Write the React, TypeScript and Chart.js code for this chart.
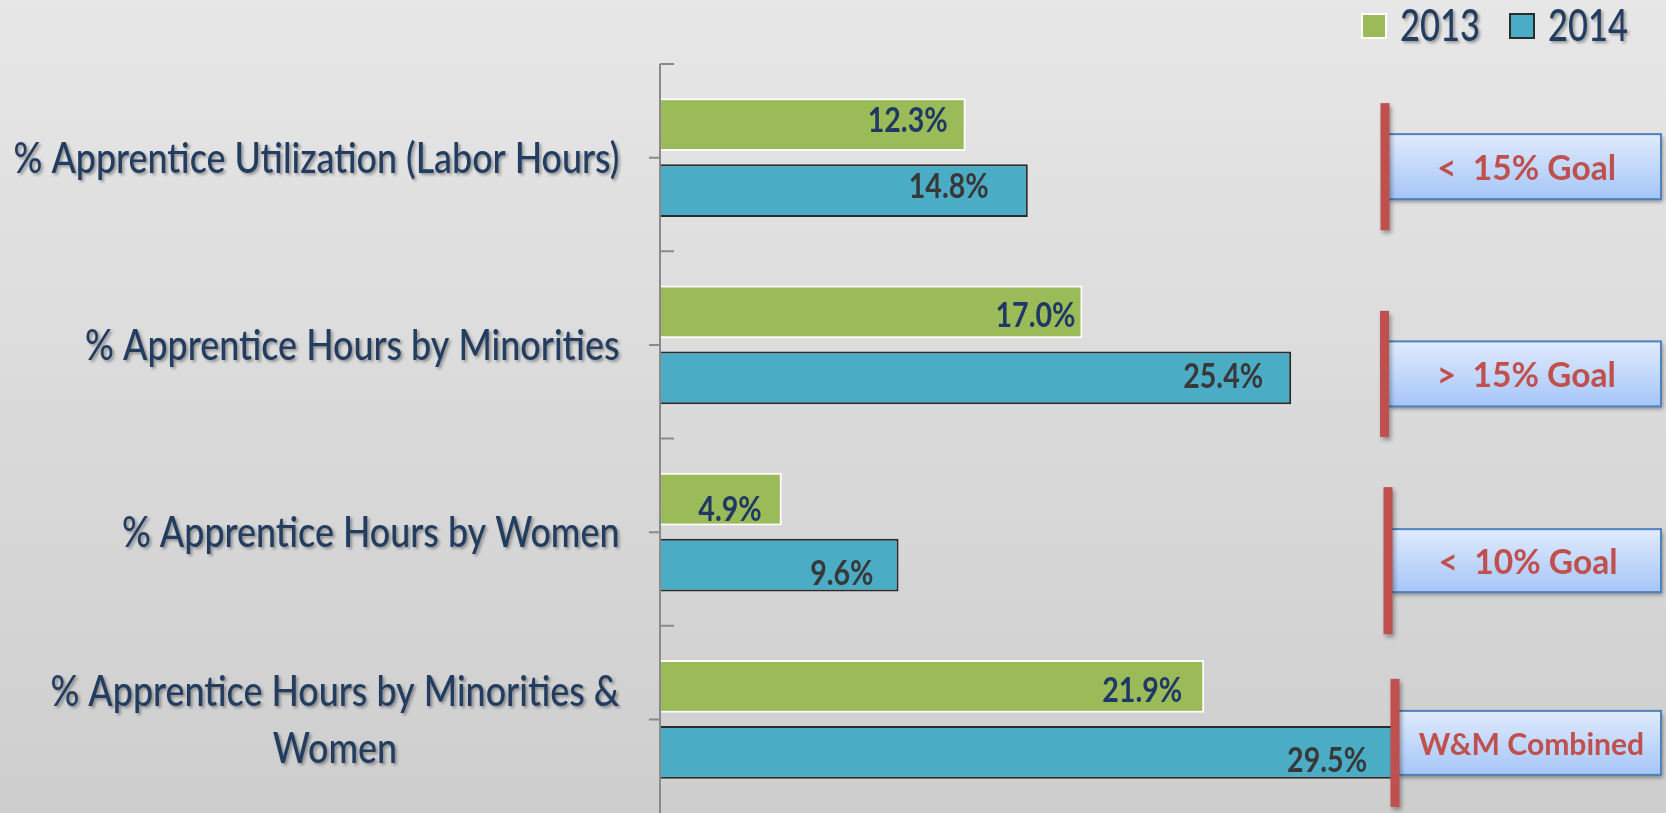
import React, { useEffect, useRef } from "react";
import { Chart, registerables } from "chart.js";

Chart.register(...registerables);

// ---------- data ----------
const categories: string[][] = [
  ["% Apprentice Utilization (Labor Hours)"],
  ["% Apprentice Hours by Minorities"],
  ["% Apprentice Hours by Women"],
  ["% Apprentice Hours by Minorities &", "Women"],
];
const seriesNames = ["2013", "2014"];
const values2013 = [12.3, 17.0, 4.9, 21.9];
const values2014 = [14.8, 25.4, 9.6, 29.5];
const goalTexts = ["<  15% Goal", ">  15% Goal", "<  10% Goal", "W&M Combined"];

// ---------- style / layout config ----------
const FONT = 'Lato, "Open Sans", "Noto Sans", sans-serif';
const GREEN = "#9BBB59";
const BLUE = "#4BACC6";
const NAVY = "#223D60";
const GOAL_RED = "#C0504D";

// label nudges (gap from bar end, vertical offset of text centre from bar centre)
const labelGap2013 = [18, 7, 20, 22];
const labelGap2014 = [39, 28, 25, 26];
const labelDy2013 = [-5, 3, 10, 3.5];
const labelDy2014 = [-4.5, -2.5, 8, 7.5];

// goal annotation layout: offset from category centre, line x from chart-area left, line length, box height
const goalLayout = [
  { dy: 9, lineX: 725, lineLen: 127, boxH: 65, size: 34 },
  { dy: 29, lineX: 724.5, lineLen: 126, boxH: 65, size: 34 },
  { dy: 28.5, lineX: 728, lineLen: 147, boxH: 63, size: 34 },
  { dy: 23.5, lineX: 735, lineLen: 128, boxH: 64, size: 30.5 },
];

function setFont(ctx: CanvasRenderingContext2D, size: number, weight: string) {
  ctx.font = `${weight} ${size}px ${FONT}`;
}

function measure(ctx: CanvasRenderingContext2D, text: string, size: number, weight: string) {
  ctx.save();
  setFont(ctx, size, weight);
  const w = ctx.measureText(text).width;
  ctx.restore();
  return w;
}

function drawText(
  ctx: CanvasRenderingContext2D,
  text: string,
  x: number,
  y: number,
  size: number,
  weight: string,
  color: string,
  sx: number,
  align: CanvasTextAlign,
  shadow = false
) {
  ctx.save();
  setFont(ctx, size, weight);
  ctx.fillStyle = color;
  ctx.textAlign = align;
  ctx.textBaseline = "alphabetic";
  if (shadow) {
    ctx.shadowColor = "rgba(0,0,0,0.35)";
    ctx.shadowBlur = 3;
    ctx.shadowOffsetX = 2;
    ctx.shadowOffsetY = 2;
  }
  ctx.translate(x, y);
  ctx.scale(sx, 1);
  ctx.fillText(text, 0, 0);
  ctx.restore();
}

const decorPlugin = {
  id: "decor",
  beforeDraw(chart: any) {
    const { ctx, width, height } = chart;
    ctx.save();
    const g = ctx.createLinearGradient(0, 0, 0, height);
    g.addColorStop(0, "#E7E7E7");
    g.addColorStop(1, "#CECECE");
    ctx.fillStyle = g;
    ctx.fillRect(0, 0, width, height);
    ctx.restore();
  },
  afterDatasetsDraw(chart: any) {
    const { ctx, chartArea, width, height } = chart;
    const xs = chart.scales.x;
    const ys = chart.scales.y;
    const left = chartArea.left;
    const step = ys.getPixelForValue(1) - ys.getPixelForValue(0);

    // axis line + ticks
    ctx.save();
    ctx.strokeStyle = "#8A8A8A";
    ctx.lineWidth = 2;
    ctx.beginPath();
    ctx.moveTo(left, chartArea.top);
    ctx.lineTo(left, height);
    for (let i = 0; i < categories.length; i++) {
      const c = ys.getPixelForValue(i);
      const b = c - step / 2;
      ctx.moveTo(left, b);
      ctx.lineTo(left + 14, b);
      ctx.moveTo(left - 11, c);
      ctx.lineTo(left, c);
    }
    ctx.stroke();
    ctx.restore();

    // category labels
    const catSize = 42;
    const catWeight = "500";
    const catCap = catSize * 0.7165;
    const catSx = Math.min(1, 606 / measure(ctx, categories[0][0], catSize, catWeight));
    const labelRight = left - 40.5;
    categories.forEach((lines, i) => {
      const c = ys.getPixelForValue(i);
      const widths = lines.map((l) => measure(ctx, l, catSize, catWeight) * catSx);
      const maxW = Math.max(...widths);
      const cx = labelRight - maxW / 2;
      lines.forEach((l, k) => {
        const lc = c + (k - (lines.length - 1) / 2) * 57;
        drawText(ctx, l, cx, lc + catCap / 2, catSize, catWeight, NAVY, catSx, "center", true);
      });
    });

    // data labels
    const dlSize = 34;
    const dlCap = dlSize * 0.7165;
    const dlSx = Math.min(1, 80 / measure(ctx, "12.3%", dlSize, "bold"));
    const metas = [chart.getDatasetMeta(0), chart.getDatasetMeta(1)];
    const vals = [values2013, values2014];
    const gaps = [labelGap2013, labelGap2014];
    const dys = [labelDy2013, labelDy2014];
    const colors = ["#1F3864", "#383838"];
    metas.forEach((meta, d) => {
      meta.data.forEach((bar: any, i: number) => {
        const txt = vals[d][i].toFixed(1) + "%";
        const xEnd = xs.getPixelForValue(vals[d][i]);
        drawText(ctx, txt, xEnd - gaps[d][i], bar.y + dys[d][i] + dlCap / 2, dlSize, "bold", colors[d], dlSx, "right");
      });
    });

    // goal annotations
    const goalSx = Math.min(1, 179 / measure(ctx, goalTexts[0], 34, "bold"));
    goalTexts.forEach((t, i) => {
      const gl = goalLayout[i];
      const cy = ys.getPixelForValue(i) + gl.dy;
      const lx = left + gl.lineX;
      const x0 = lx + 3;
      const x1 = width - 5;
      const y0 = cy - gl.boxH / 2;
      ctx.save();
      ctx.shadowColor = "rgba(0,0,0,0.35)";
      ctx.shadowBlur = 4;
      ctx.shadowOffsetX = 2;
      ctx.shadowOffsetY = 3;
      const g = ctx.createLinearGradient(0, y0, 0, y0 + gl.boxH);
      g.addColorStop(0, "#E0EBFD");
      g.addColorStop(1, "#A5C5F8");
      ctx.fillStyle = g;
      ctx.fillRect(x0, y0, x1 - x0, gl.boxH);
      ctx.restore();
      ctx.save();
      ctx.strokeStyle = "#4F81BD";
      ctx.lineWidth = 2;
      ctx.strokeRect(x0, y0, x1 - x0, gl.boxH);
      ctx.restore();
      drawText(ctx, t, (x0 + x1) / 2 + 2, cy + (gl.size * 0.7165) / 2 + 1, gl.size, "bold", GOAL_RED, goalSx, "center");
      ctx.save();
      ctx.shadowColor = "rgba(0,0,0,0.35)";
      ctx.shadowBlur = 4;
      ctx.shadowOffsetX = 2;
      ctx.shadowOffsetY = 3;
      ctx.fillStyle = GOAL_RED;
      ctx.fillRect(lx - 4.5, cy - gl.lineLen / 2, 9, gl.lineLen);
      ctx.restore();
    });

    // legend
    const legSize = 44;
    const legSx = Math.min(1, 80 / measure(ctx, seriesNames[0], legSize, "500"));
    const legendItems = [
      { name: seriesNames[0], fill: GREEN, stroke: "#FFFFFF", x: 1361 },
      { name: seriesNames[1], fill: BLUE, stroke: "#2B2B2B", x: 1509 },
    ];
    legendItems.forEach((it) => {
      ctx.save();
      ctx.fillStyle = it.fill;
      ctx.fillRect(it.x, 13, 26, 26);
      ctx.strokeStyle = it.stroke;
      ctx.lineWidth = 2;
      ctx.strokeRect(it.x + 1, 14, 24, 24);
      ctx.restore();
      drawText(ctx, it.name, it.x + 39, 41, legSize, "500", NAVY, legSx, "left", true);
    });
  },
};

export default function App() {
  const ref = useRef<HTMLCanvasElement | null>(null);

  useEffect(() => {
    document.body.style.margin = "0";
    document.body.style.overflow = "hidden";
    const canvas = ref.current;
    if (!canvas) return;
    const chart = new Chart(canvas, {
      type: "bar",
      data: {
        labels: categories as any,
        datasets: [
          {
            label: seriesNames[0],
            data: values2013,
            backgroundColor: GREEN,
            borderColor: "#FFFFFF",
            borderWidth: 2,
            borderSkipped: "start",
            categoryPercentage: 0.705,
            barPercentage: 0.8,
          },
          {
            label: seriesNames[1],
            data: values2014,
            backgroundColor: BLUE,
            borderColor: "#2B2B2B",
            borderWidth: 2,
            borderSkipped: "start",
            categoryPercentage: 0.705,
            barPercentage: 0.8,
          },
        ],
      },
      options: {
        indexAxis: "y",
        responsive: false,
        animation: false,
        devicePixelRatio: 1,
        layout: { padding: { left: 660, right: 12, top: 64, bottom: 0 } },
        scales: {
          x: { display: false, min: 0, max: 40 },
          y: { display: false, offset: true },
        },
        plugins: {
          legend: { display: false },
          tooltip: { enabled: false },
        },
      },
      plugins: [decorPlugin],
    });
    return () => chart.destroy();
  }, []);

  return <canvas ref={ref} width={1666} height={813} style={{ display: "block" }} />;
}
